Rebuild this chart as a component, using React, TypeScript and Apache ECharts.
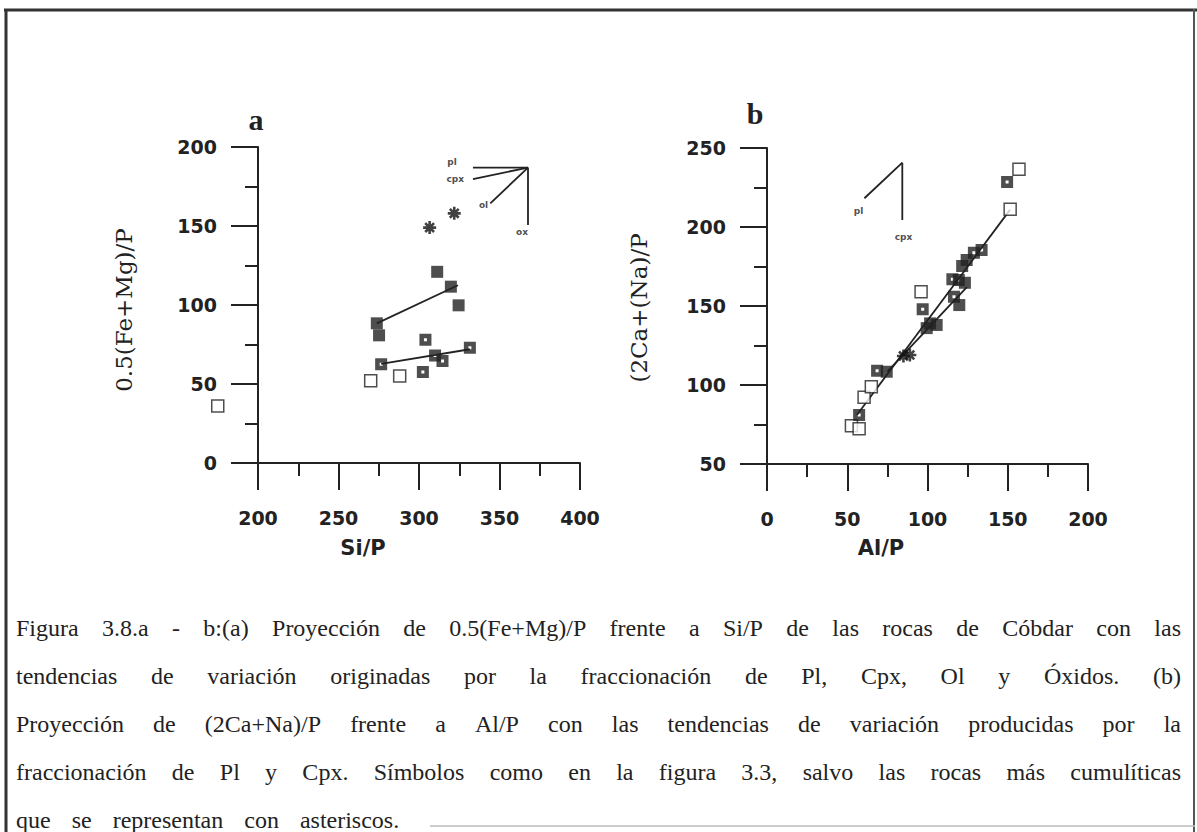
import React, { useEffect, useRef } from "react";
import * as echarts from "echarts";

// ---------- Panel a : 0.5(Fe+Mg)/P vs Si/P ----------
const siTicks = [200, 250, 300, 350, 400];
const femgTicks = [0, 50, 100, 150, 200];
const openA = [[175, 36], [270, 52], [288, 55]];
const dotA = [[276.5, 62.5], [304, 78], [302.4, 57.6], [310, 68], [314.6, 64.5], [331.6, 73]];
const filledA = [[273.8, 88.4], [275.2, 80.8], [311.3, 121], [319.8, 111.6], [324.6, 99.8]];
const starA = [[306.6, 149], [321.9, 158]];
const trendA1 = [[273.8, 88.4], [324.2, 112.5]];
const trendA2 = [[276.5, 62.7], [331.6, 72]];
const vecA_pl = [[367.7, 187], [333.5, 187]];
const vecA_cpx = [[367.7, 187], [333.5, 179.6]];
const vecA_ol = [[367.7, 187], [344.3, 164.3]];
const vecA_ox = [[367.7, 187], [367.7, 150.6]];
const vecLabelsA = [
  { name: "pl", value: [320.5, 190.5] },
  { name: "cpx", value: [322.5, 179.6] },
  { name: "ol", value: [340.1, 163.3] },
  { name: "ox", value: [364, 146.4] },
];

// ---------- Panel b : (2Ca+Na)/P vs Al/P ----------
const alTicks = [0, 50, 100, 150, 200];
const canaTicks = [50, 100, 150, 200, 250];
const openB = [[52.6, 74.2], [57.4, 72.3], [60.5, 92.2], [65, 98.9], [96, 159], [151.5, 211.2], [157, 236.5]];
const dotB = [[57.4, 81], [68.6, 109], [97, 147.9], [116.5, 155.9], [115.5, 167], [119.5, 166.5], [128.9, 183.7], [133.7, 185.4], [149.6, 228.5]];
const filledB = [[74.6, 108.4], [99.5, 136], [101.6, 139], [105.7, 138], [119.8, 150.6], [123.3, 164.7], [121.6, 175.3], [124.4, 179.1]];
const starB = [[85, 118.4], [89, 119]];
const trendB1 = [[56, 81], [151.5, 211]];
const trendB2 = [[75, 108.5], [124.5, 162]];
const vecB_pl = [[84.3, 240.7], [60.7, 218.2]];
const vecB_cpx = [[84.3, 240.7], [84.3, 204.4]];
const vecLabelsB = [
  { name: "pl", value: [57, 210.1] },
  { name: "cpx", value: [85, 193.9] },
];

// ---------- Caption ----------
const captionLines = [
  "Figura 3.8.a - b:(a) Proyección de 0.5(Fe+Mg)/P frente a Si/P de las rocas de Cóbdar con las",
  "tendencias de variación originadas por la fraccionación de Pl, Cpx, Ol y Óxidos. (b)",
  "Proyección de (2Ca+Na)/P frente a Al/P con las tendencias de variación producidas por la",
  "fraccionación de Pl y Cpx. Símbolos como en la figura 3.3, salvo las rocas más cumulíticas",
  "que se representan con asteriscos.",
];

const INK = "#222";

function axis(ticks: number[], gridIndex: number, isX: boolean) {
  return {
    type: "value",
    gridIndex,
    min: ticks[0],
    max: ticks[ticks.length - 1],
    interval: ticks[1] - ticks[0],
    axisLine: { show: true, onZero: false, lineStyle: { color: INK, width: 2 } },
    axisTick: { show: true, length: 27, lineStyle: { color: INK, width: 2 } },
    minorTick: { show: true, splitNumber: 2, length: 13, lineStyle: { color: INK, width: 2 } },
    splitLine: { show: false },
    minorSplitLine: { show: false },
    axisLabel: {
      color: INK,
      fontFamily: "DejaVu Sans",
      fontWeight: "bold",
      fontSize: 19,
      margin: isX ? 45 : 41,
    },
  };
}

function lineSeries(data: number[][], gi: number) {
  return {
    type: "line",
    xAxisIndex: gi,
    yAxisIndex: gi,
    data,
    symbol: "none",
    silent: true,
    clip: false,
    lineStyle: { color: INK, width: 1.8 },
    z: 2,
  };
}

const DOT_PATH = "path://M0,0H12V12H0Z M4.5,4.5V7.5H7.5V4.5Z";
const STAR_PATH = "path://M5,0L5,10M0,5L10,5M1.6,1.6L8.4,8.4M8.4,1.6L1.6,8.4";

function scatter(data: number[][], gi: number, kind: string) {
  const base: any = {
    type: "scatter",
    xAxisIndex: gi,
    yAxisIndex: gi,
    data,
    clip: false,
    silent: true,
    z: 3,
  };
  if (kind === "open") {
    base.symbol = "rect";
    base.symbolSize = 12;
    base.itemStyle = { color: "#fff", borderColor: INK, borderWidth: 1.5 };
  } else if (kind === "dot") {
    base.symbol = DOT_PATH;
    base.symbolSize = 12;
    base.itemStyle = { color: INK };
  } else if (kind === "filled") {
    base.symbol = "rect";
    base.symbolSize = 12;
    base.itemStyle = { color: INK };
  } else {
    base.symbol = STAR_PATH;
    base.symbolSize = 13;
    base.itemStyle = { color: "transparent", borderColor: "#111", borderWidth: 2.6 };
  }
  return base;
}

function labelSeries(data: any[], gi: number) {
  return {
    type: "scatter",
    xAxisIndex: gi,
    yAxisIndex: gi,
    data,
    clip: false,
    silent: true,
    symbolSize: 1,
    itemStyle: { color: "rgba(0,0,0,0)" },
    label: {
      show: true,
      position: "inside",
      formatter: "{b}",
      fontSize: 9,
      fontWeight: "bold",
      fontFamily: "DejaVu Sans",
      color: INK,
    },
  };
}

function buildCaption(): any[] {
  const font = '24px "Liberation Serif"';
  const canvas = document.createElement("canvas");
  const ctx = canvas.getContext("2d")!;
  ctx.font = font;
  const left = 16;
  const right = 1181;
  const ys = [628, 676, 724, 772, 820];
  const els: any[] = [];
  captionLines.forEach((line, i) => {
    const words = line.split(" ");
    const widths = words.map((w) => ctx.measureText(w).width);
    const sum = widths.reduce((a, b) => a + b, 0);
    const last = i === captionLines.length - 1;
    const gap = last ? 21 : (right - left - sum) / (words.length - 1);
    let x = left;
    words.forEach((w, k) => {
      els.push({
        type: "text",
        x,
        y: ys[i],
        silent: true,
        style: {
          text: w,
          fontFamily: "Liberation Serif",
          fontSize: 24,
          fill: INK,
          textAlign: "left",
          textVerticalAlign: "middle",
        },
      });
      x += widths[k] + gap;
    });
  });
  return els;
}

export default function App() {
  const ref = useRef<HTMLDivElement>(null);
  useEffect(() => {
    const chart = echarts.init(ref.current!, null, { renderer: "svg" });
    const textEl = (text: string, x: number, y: number, style: any, rotation = 0) => ({
      type: "text",
      x,
      y,
      rotation,
      silent: true,
      style: { text, fill: INK, textAlign: "center", textVerticalAlign: "middle", ...style },
    });
    const frame = (x1: number, y1: number, x2: number, y2: number, stroke = "#333", w = 3) => ({
      type: "line",
      silent: true,
      shape: { x1, y1, x2, y2 },
      style: { stroke, lineWidth: w },
    });
    const option: any = {
      animation: false,
      backgroundColor: "#fff",
      grid: [
        { left: 258, top: 147, width: 322, height: 316 },
        { left: 767, top: 148, width: 321, height: 316 },
      ],
      xAxis: [axis(siTicks, 0, true), axis(alTicks, 1, true)],
      yAxis: [axis(femgTicks, 0, false), axis(canaTicks, 1, false)],
      series: [
        lineSeries(trendA1, 0),
        lineSeries(trendA2, 0),
        lineSeries(vecA_pl, 0),
        lineSeries(vecA_cpx, 0),
        lineSeries(vecA_ol, 0),
        lineSeries(vecA_ox, 0),
        scatter(openA, 0, "open"),
        scatter(dotA, 0, "dot"),
        scatter(filledA, 0, "filled"),
        scatter(starA, 0, "star"),
        labelSeries(vecLabelsA, 0),
        lineSeries(trendB1, 1),
        lineSeries(trendB2, 1),
        lineSeries(vecB_pl, 1),
        lineSeries(vecB_cpx, 1),
        scatter(openB, 1, "open"),
        scatter(dotB, 1, "dot"),
        scatter(filledB, 1, "filled"),
        scatter(starB, 1, "star"),
        labelSeries(vecLabelsB, 1),
      ],
      graphic: [
        frame(4, 10, 1197, 10),
        frame(6, 9, 6, 832),
        frame(1194, 9, 1194, 832, "#555", 2),
        frame(430, 826, 1195, 826, "#bbb", 1.5),
        textEl("a", 256, 119, { fontFamily: "Liberation Serif", fontWeight: "bold", fontSize: 30 }),
        textEl("b", 755, 113, { fontFamily: "Liberation Serif", fontWeight: "bold", fontSize: 30 }),
        textEl("Si/P", 363, 548, { fontFamily: "DejaVu Sans", fontWeight: "bold", fontSize: 21 }),
        textEl("Al/P", 881, 548, { fontFamily: "DejaVu Sans", fontWeight: "bold", fontSize: 21 }),
        textEl("0.5(Fe+Mg)/P", 124, 310, { fontFamily: "DejaVu Serif", fontSize: 23 }, Math.PI / 2),
        textEl("(2Ca+(Na)/P", 639, 308, { fontFamily: "DejaVu Serif", fontSize: 23 }, Math.PI / 2),
        ...buildCaption(),
      ],
    };
    chart.setOption(option);
    return () => chart.dispose();
  }, []);
  return (
    <div
      ref={ref}
      style={{ position: "absolute", left: 0, top: 0, width: 1197, height: 832, background: "#fff" }}
    />
  );
}
